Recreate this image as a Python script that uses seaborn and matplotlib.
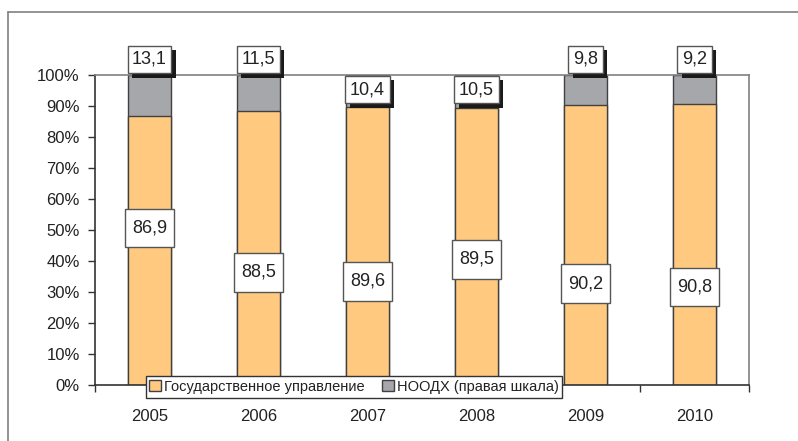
import pandas as pd
import matplotlib
matplotlib.use("Agg")
import matplotlib.pyplot as plt
import matplotlib.patheffects as pe
from matplotlib.path import Path
from matplotlib.lines import Line2D
from matplotlib.patches import Patch
from matplotlib.ticker import FuncFormatter, FixedLocator
import seaborn as sns

# data
years = ["2005", "2006", "2007", "2008", "2009", "2010"]
gov = [86.9, 88.5, 89.6, 89.5, 90.2, 90.8]
noodh = [13.1, 11.5, 10.4, 10.5, 9.8, 9.2]
gov_labels = ["86,9", "88,5", "89,6", "89,5", "90,2", "90,8"]
noodh_labels = ["13,1", "11,5", "10,4", "10,5", "9,8", "9,2"]

# label placement (as dragged in the original)
gov_label_y = [50.6, 36.3, 33.4, 40.5, 32.7, 31.6]
noodh_label_y = [105.0, 105.0, 95.3, 95.3, 105.0, 105.0]

ORANGE = "#FFC97F"
GREY = "#A6A7AB"
EDGE = "#404040"


def box(padx, pady):
    # square box with separate horizontal / vertical padding
    def style(x0, y0, width, height, mutation_size):
        px, py = padx * mutation_size, pady * mutation_size
        x0, y0 = x0 - px, y0 - py
        x1, y1 = x0 + width + 2 * px, y0 + height + 2 * py
        return Path([(x0, y0), (x1, y0), (x1, y1), (x0, y1), (x0, y0)], closed=True)
    return style


sns.set_style("white")
plt.rcParams["font.family"] = ["Liberation Sans", "DejaVu Sans"]

df = pd.DataFrame({"year": years, "gov": gov, "noodh": noodh})
df["total"] = df["gov"] + df["noodh"]

fig = plt.figure(figsize=(7.98, 4.41), dpi=100)
ax = fig.add_axes([95 / 798, 1 - 385 / 441, 654 / 798, 310 / 441])

sns.barplot(data=df, x="year", y="total", color=GREY, edgecolor=EDGE,
            linewidth=1, width=0.4, saturation=1, ax=ax)
sns.barplot(data=df, x="year", y="gov", color=ORANGE, edgecolor=EDGE,
            linewidth=1, width=0.4, saturation=1, ax=ax)

ax.set_xlim(-0.5, 5.5)
ax.set_ylim(0, 100)
ax.set_xlabel("")
ax.set_ylabel("")
ax.set_yticks(range(0, 101, 10))
ax.yaxis.set_major_formatter(FuncFormatter(lambda v, p: f"{int(v)}%"))
ax.tick_params(axis="y", direction="out", length=5, width=1, color="#333333",
               labelsize=12, labelcolor="#222222", pad=6, left=True)
ax.tick_params(axis="x", which="major", length=0, labelsize=12,
               labelcolor="#222222", pad=17)
ax.xaxis.set_minor_locator(FixedLocator([i - 0.5 for i in range(7)]))
ax.tick_params(axis="x", which="minor", direction="out", length=5, width=1,
               color="#333333", bottom=True)

for s in ["left", "bottom"]:
    ax.spines[s].set_color("#333333")
    ax.spines[s].set_linewidth(1.2)
for s in ["top", "right"]:
    ax.spines[s].set_color("#808080")
    ax.spines[s].set_linewidth(1.2)

# value labels
for i, (lab, y) in enumerate(zip(gov_labels, gov_label_y)):
    ax.text(i, y, lab, ha="center", va="center", fontsize=13, color="#222222",
            bbox=dict(boxstyle=box(0.4, 0.6), fc="white", ec="#555555", lw=1),
            zorder=5)

for i, (lab, y) in enumerate(zip(noodh_labels, noodh_label_y)):
    t = ax.text(i, y, lab, ha="center", va="center", fontsize=13, color="#222222",
                bbox=dict(boxstyle=box(0.25, 0.3), fc="white", ec="#555555", lw=1),
                zorder=6, clip_on=False)
    t.get_bbox_patch().set_path_effects([
        pe.SimplePatchShadow(offset=(3, -3), shadow_rgbFace="#1a1a1a", alpha=1),
        pe.Normal()])

# legend
handles = [Patch(facecolor=ORANGE, edgecolor=EDGE, lw=1),
           Patch(facecolor=GREY, edgecolor=EDGE, lw=1)]
leg = ax.legend(handles, ["Государственное управление", "НООДХ (правая шкала)"],
                loc="center", bbox_to_anchor=(0.396, -0.006), ncol=2,
                fontsize=10.5, frameon=True, fancybox=False, framealpha=1,
                handlelength=0.8, handleheight=0.8, handletextpad=0.2,
                columnspacing=1.2, borderpad=0.25, labelcolor="#222222")
leg.get_frame().set_edgecolor("#333333")
leg.get_frame().set_linewidth(1)
leg.set_zorder(10)

# outer chart border (only top and left visible)
fig.add_artist(Line2D([8 / 798, 1], [1 - 12 / 441, 1 - 12 / 441],
                      color="#808080", lw=1.2))
fig.add_artist(Line2D([8 / 798, 8 / 798], [0, 1 - 12 / 441],
                      color="#808080", lw=1.2))

fig.savefig("out.png", dpi=100)
